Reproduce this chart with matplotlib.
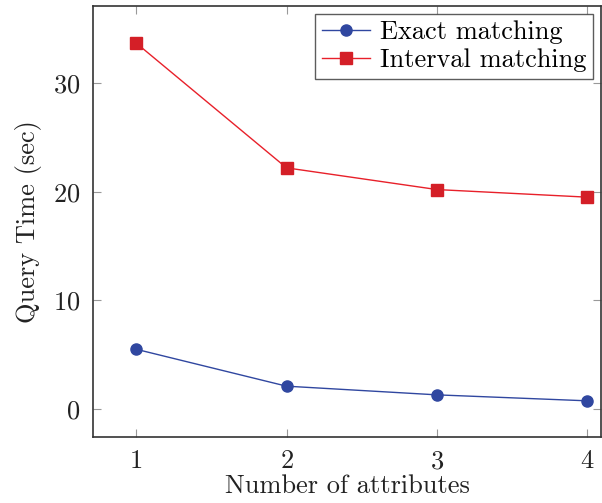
import matplotlib
matplotlib.use("Agg")
import matplotlib.pyplot as plt

plt.rcParams['font.family'] = 'serif'
plt.rcParams['font.serif'] = ['cmr10']
plt.rcParams['mathtext.fontset'] = 'cm'
plt.rcParams['axes.formatter.use_mathtext'] = True

attributes = [1, 2, 3, 4]
exact = [5.5, 2.1, 1.3, 0.75]
interval = [33.7, 22.2, 20.2, 19.5]

fig = plt.figure(figsize=(6.02, 5.03), dpi=100)
ax = fig.add_axes([93/602, 66/503, 508/602, 431/503])

ax.plot(attributes, exact, color='#3047a0', lw=1, marker='o', ms=8,
        label='Exact matching')
ax.plot(attributes, interval, color='#e8202a', lw=1, marker='s', ms=8,
        markerfacecolor='#d41f27', markeredgecolor='#d41f27',
        label='Interval matching')

ax.set_xlim(0.714, 4.09)
ax.set_ylim(-2.58, 37.1)
ax.set_xticks(attributes)
ax.set_yticks([0, 10, 20, 30])
ax.tick_params(direction='in', length=6, color='#999999', labelsize=19,
               top=True, right=True, labelcolor='#222222', pad=9)
for s in ax.spines.values():
    s.set_color('#333333')
    s.set_linewidth(1.2)

ax.set_xlabel('Number of attributes', fontsize=19, color='#222222', labelpad=1)
ax.set_ylabel('Query Time (sec)', fontsize=19, color='#222222', labelpad=8)

leg = ax.legend(loc='upper right', fontsize=19, frameon=True, fancybox=False,
                edgecolor='#333333', handlelength=1.8, borderaxespad=0.3,
                handletextpad=0.4, borderpad=0.25, labelspacing=0.15)
leg.get_frame().set_linewidth(1.0)

fig.savefig('out.png', dpi=100)
